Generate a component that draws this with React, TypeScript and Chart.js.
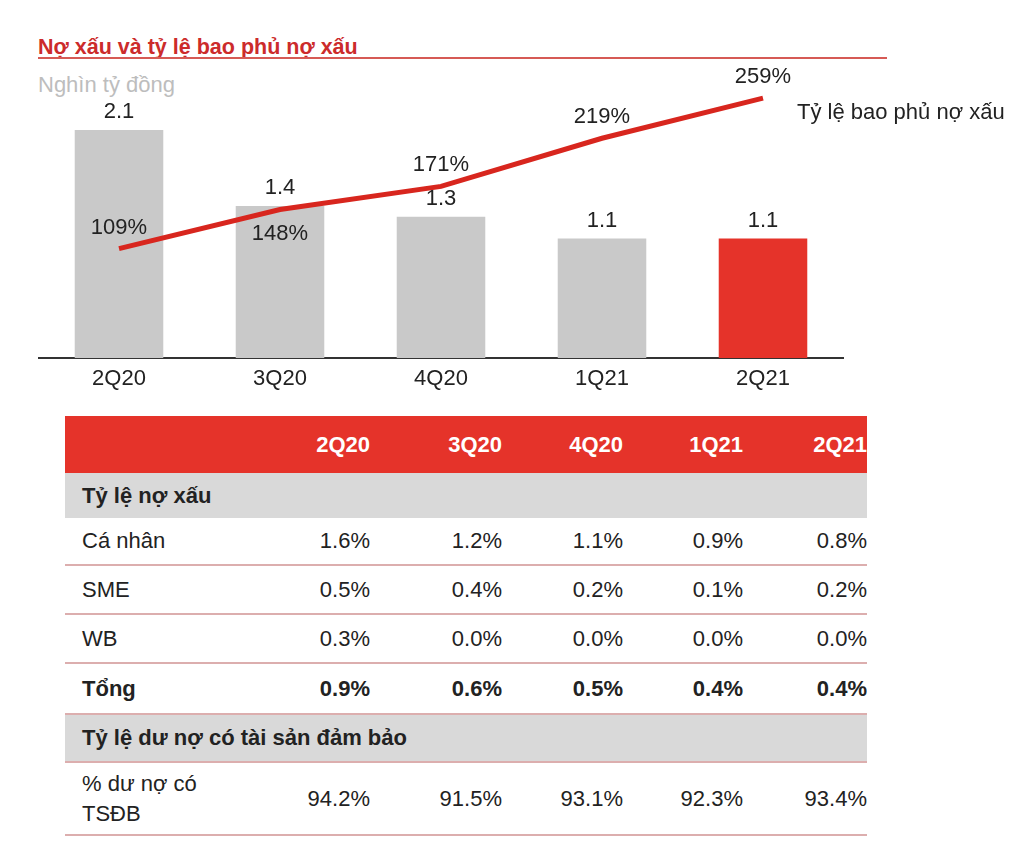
import React, { useEffect, useRef } from "react";
import { Chart, registerables } from "chart.js";

Chart.register(...registerables);

// ---------- data ----------
const quarters = ["2Q20", "3Q20", "4Q20", "1Q21", "2Q21"];
const nplValues = [2.1, 1.4, 1.3, 1.1, 1.1]; // Nghìn tỷ đồng
const coverageRatio = [109, 148, 171, 219, 259]; // %
const coverageLabelSide = ["above", "below", "above", "above", "above"];
const barColors = ["#c9c9c9", "#c9c9c9", "#c9c9c9", "#c9c9c9", "#e5332a"];

const nplCaNhan = [1.6, 1.2, 1.1, 0.9, 0.8];
const nplSME = [0.5, 0.4, 0.2, 0.1, 0.2];
const nplWB = [0.3, 0.0, 0.0, 0.0, 0.0];
const nplTong = [0.9, 0.6, 0.5, 0.4, 0.4];
const securedLoans = [94.2, 91.5, 93.1, 92.3, 93.4];

const FONT = "'Liberation Sans', Arial, Helvetica, sans-serif";
const RED = "#e5332a";
const colWidths = [105, 132, 121, 120, 124];
const LABEL_W = 200;
const SEP = "2px solid #dcaeae";

const labelPlugin = {
  id: "valueLabels",
  afterDatasetsDraw(chart: any) {
    const ctx = chart.ctx;
    ctx.save();
    ctx.font = `22px ${FONT}`;
    ctx.fillStyle = "#222";
    ctx.textAlign = "center";
    ctx.textBaseline = "middle";
    const barMeta = chart.getDatasetMeta(0);
    barMeta.data.forEach((el: any, i: number) => {
      ctx.fillText(nplValues[i].toFixed(1), el.x, el.y - 18);
    });
    const lineMeta = chart.getDatasetMeta(1);
    lineMeta.data.forEach((el: any, i: number) => {
      const dy = coverageLabelSide[i] === "below" ? 24 : -21;
      ctx.fillText(coverageRatio[i] + "%", el.x, el.y + dy);
    });
    const last = lineMeta.data[lineMeta.data.length - 1];
    ctx.textAlign = "left";
    ctx.fillText(chart.data.datasets[1].label, last.x + 34, last.y + 15);
    ctx.restore();
  },
};

function ChartPart() {
  const ref = useRef<HTMLCanvasElement>(null);
  useEffect(() => {
    if (!ref.current) return;
    Chart.defaults.font.family = FONT;
    const chart = new Chart(ref.current, {
      type: "bar",
      data: {
        labels: quarters,
        datasets: [
          {
            type: "bar",
            label: "Nợ xấu",
            data: nplValues,
            backgroundColor: barColors,
            borderWidth: 0,
            categoryPercentage: 1,
            barPercentage: 0.55,
            yAxisID: "y",
            order: 1,
          },
          {
            type: "line",
            label: "Tỷ lệ bao phủ nợ xấu",
            data: coverageRatio,
            borderColor: "#d8261e",
            borderWidth: 5,
            pointRadius: 0,
            tension: 0,
            yAxisID: "y2",
            order: 0,
          } as any,
        ],
      },
      options: {
        animation: false,
        responsive: false,
        layout: { padding: { left: 38.5, right: 180.5, top: 0, bottom: 0 } },
        plugins: { legend: { display: false }, tooltip: { enabled: false } },
        scales: {
          x: {
            grid: { display: false, drawTicks: false },
            border: { display: true, color: "#333", width: 2 },
            ticks: {
              color: "#222",
              font: { size: 22, lineHeight: 1 },
              padding: 10,
            },
          },
          y: { display: false, min: 0, max: 2.745 },
          y2: { display: false, min: 0, max: 297 },
        },
      },
      plugins: [labelPlugin],
    });
    return () => chart.destroy();
  }, []);
  return (
    <canvas
      ref={ref}
      width={1024}
      height={340}
      style={{ position: "absolute", left: 0, top: 60, width: 1024, height: 340 }}
    />
  );
}

function Row(props: {
  label: React.ReactNode;
  values?: string[];
  height: number;
  bg?: string;
  color?: string;
  bold?: boolean;
  borderTop?: string;
  borderBottom?: string;
  labelWidth?: number;
}) {
  const { label, values, height, bg, color, bold, borderTop, borderBottom } = props;
  return (
    <div
      style={{
        display: "flex",
        alignItems: "center",
        height,
        boxSizing: "border-box",
        background: bg || "transparent",
        color: color || "#222",
        fontWeight: bold ? "bold" : "normal",
        borderTop,
        borderBottom,
        whiteSpace: "nowrap",
      }}
    >
      <div
        style={{
          width: LABEL_W,
          paddingLeft: 17,
          boxSizing: "border-box",
          overflow: "visible",
          whiteSpace: props.labelWidth ? "normal" : "nowrap",
        }}
      >
        <div style={{ width: props.labelWidth || "auto", lineHeight: props.labelWidth ? "30px" : "normal" }}>
          {label}
        </div>
      </div>
      {values &&
        values.map((v, i) => (
          <div key={i} style={{ width: colWidths[i], textAlign: "right", flex: "none" }}>
            {v}
          </div>
        ))}
    </div>
  );
}

const pct = (arr: number[]) => arr.map((v) => v.toFixed(1) + "%");

function TablePart() {
  return (
    <div
      style={{
        position: "absolute",
        left: 65,
        top: 416,
        width: 802,
        overflow: "hidden",
        fontFamily: FONT,
        fontSize: 22,
      }}
    >
      <Row label="" values={quarters} height={57} bg={RED} color="#fff" bold />
      <Row label="Tỷ lệ nợ xấu" height={45} bg="#d9d9d9" bold />
      <Row label="Cá nhân" values={pct(nplCaNhan)} height={48} borderBottom={SEP} />
      <Row label="SME" values={pct(nplSME)} height={49} borderBottom={SEP} />
      <Row label="WB" values={pct(nplWB)} height={49} borderBottom={SEP} />
      <Row label="Tổng" values={pct(nplTong)} height={49} bold />
      <Row
        label="Tỷ lệ dư nợ có tài sản đảm bảo"
        height={50}
        bg="#d9d9d9"
        bold
        borderTop={SEP}
        borderBottom={SEP}
      />
      <Row label="% dư nợ có TSĐB" values={pct(securedLoans)} height={73} borderBottom={SEP} labelWidth={140} />
    </div>
  );
}

export default function App() {
  return (
    <div
      style={{
        position: "absolute",
        left: 0,
        top: 0,
        width: 1024,
        height: 850,
        background: "#fff",
        fontFamily: FONT,
        overflow: "hidden",
      }}
    >
      <div
        style={{
          position: "absolute",
          left: 38,
          top: 34,
          fontSize: 21.5,
          lineHeight: "26px",
          fontWeight: "bold",
          color: "#cc2b2b",
          whiteSpace: "nowrap",
        }}
      >
        Nợ xấu và tỷ lệ bao phủ nợ xấu
      </div>
      <div style={{ position: "absolute", left: 38, top: 57, width: 849, height: 2, background: "#d65a55" }} />
      <div
        style={{
          position: "absolute",
          left: 38,
          top: 72,
          fontSize: 22,
          lineHeight: "26px",
          color: "#bdbdbd",
          whiteSpace: "nowrap",
        }}
      >
        Nghìn tỷ đồng
      </div>
      <ChartPart />
      <TablePart />
    </div>
  );
}
